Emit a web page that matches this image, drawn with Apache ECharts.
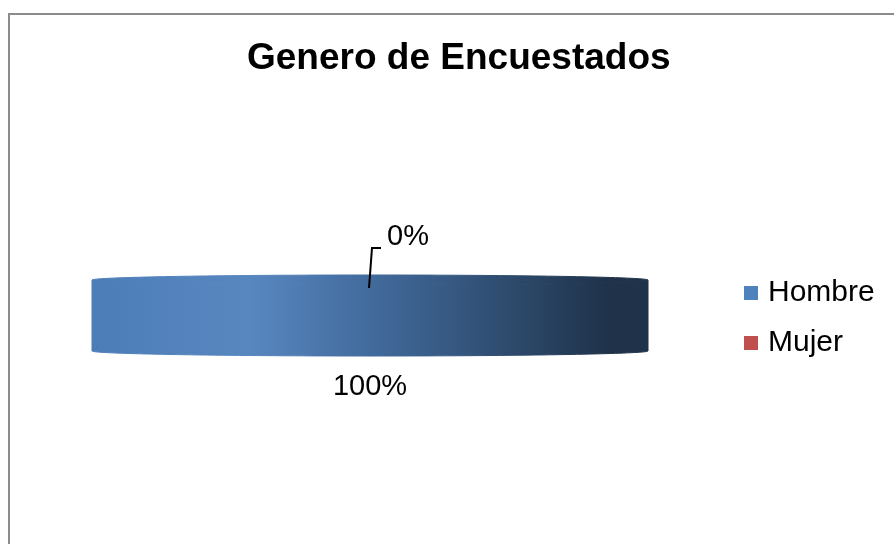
<!DOCTYPE html>
<html>
<head>
<meta charset="utf-8">
<script src="https://cdn.jsdelivr.net/npm/echarts@6/dist/echarts.min.js"></script>
<style>
  html, body { margin: 0; padding: 0; background: #fff; }
  #chart { width: 894px; height: 544px; }
</style>
</head>
<body>
<div id="chart"></div>
<script>
// datos
var categories = ['Hombre', 'Mujer'];
var values = [100, 0];
var colors = ['#4f81bd', '#c0504d'];

var total = values.reduce(function (a, b) { return a + b; }, 0);

// disco 3D visto casi de canto
var cx = 370, rx = 278, cyTop = 280, ry = 5, depth = 71;
var FONT = "'Liberation Sans', Arial, sans-serif";

function shade(hex, f) {
  var n = parseInt(hex.slice(1), 16);
  var r = (n >> 16) & 255, g = (n >> 8) & 255, b = n & 255;
  function c(v) {
    v = f > 1 ? v + (255 - v) * (f - 1) : v * f;
    return Math.round(Math.max(0, Math.min(255, v)));
  }
  return 'rgb(' + c(r) + ',' + c(g) + ',' + c(b) + ')';
}

function sideFill(color) {
  return new echarts.graphic.LinearGradient(cx - rx, 0, cx + rx, 0, [
    { offset: 0, color: shade(color, 0.97) },
    { offset: 0.28, color: shade(color, 1.05) },
    { offset: 0.5, color: shade(color, 0.83) },
    { offset: 0.65, color: shade(color, 0.68) },
    { offset: 0.82, color: shade(color, 0.5) },
    { offset: 0.93, color: shade(color, 0.39) },
    { offset: 1, color: shade(color, 0.39) }
  ], true);
}

function pt(a, dy) {
  var r = a * Math.PI / 180;
  return [cx + rx * Math.sin(r), cyTop - ry * Math.cos(r) + (dy || 0)];
}

function arc(a0, a1, dy) {
  var pts = [];
  var n = Math.max(2, Math.ceil((a1 - a0) / 2));
  for (var k = 0; k <= n; k++) pts.push(pt(a0 + (a1 - a0) * k / n, dy));
  return pts;
}

function makeRender(i) {
  return function (params, api) {
    var before = 0;
    for (var j = 0; j < i; j++) before += values[j];
    var v = api.value(0);
    var start = before / total * 360;
    var end = start + v / total * 360;
    var mid = (start + end) / 2;
    var fill = sideFill(colors[i]);
    var children = [];

    // cara lateral visible (frente: 90..270 grados)
    var lo = Math.max(start, 90), hi = Math.min(end, 270);
    if (hi > lo) {
      var side = arc(lo, hi, 0).concat(arc(lo, hi, depth).reverse());
      children.push({ type: 'polygon', shape: { points: side }, style: { fill: fill, stroke: fill, lineWidth: 1 } });
    }
    // cara superior
    if (end > start) {
      var top = end - start >= 360 ? arc(0, 360, 0) : [[cx, cyTop]].concat(arc(start, end, 0));
      children.push({ type: 'polygon', shape: { points: top }, style: { fill: fill, stroke: fill, lineWidth: 1 } });
    }

    // etiqueta de porcentaje
    var label = Math.round(v / total * 100) + '%';
    var p = pt(mid, 0);
    if (Math.cos(mid * Math.PI / 180) < 0) {
      children.push({
        type: 'text',
        style: { text: label, x: p[0], y: cyTop + ry + depth + 31, align: 'center', verticalAlign: 'middle',
                 font: '29px ' + FONT, fill: '#000' }
      });
    } else {
      var x0 = p[0] - 1;
      children.push({
        type: 'polyline',
        shape: { points: [[x0, cyTop + 8], [x0 + 3, cyTop - 32], [x0 + 12, cyTop - 32]] },
        style: { stroke: '#000', lineWidth: 2, fill: null }
      });
      children.push({
        type: 'text',
        style: { text: label, x: x0 + 18, y: cyTop - 43, align: 'left', verticalAlign: 'middle',
                 font: '29px ' + FONT, fill: '#000' }
      });
    }
    return { type: 'group', children: children };
  };
}

var series = categories.map(function (name, i) {
  return {
    type: 'custom',
    name: name,
    coordinateSystem: 'none',
    itemStyle: { color: colors[i] },
    data: [[values[i]]],
    renderItem: makeRender(i),
    silent: true
  };
});

var chart = echarts.init(document.getElementById('chart'));
chart.setOption({
  animation: false,
  backgroundColor: '#fff',
  graphic: [{
    type: 'rect',
    shape: { x: 9, y: 14, width: 1000, height: 1000 },
    style: { fill: null, stroke: '#8c8c8c', lineWidth: 2 },
    z: -10
  }],
  title: {
    text: 'Genero de Encuestados',
    left: 242,
    top: 35,
    textStyle: { fontFamily: FONT, fontSize: 37, fontWeight: 'bold', color: '#000' }
  },
  legend: {
    orient: 'vertical',
    left: 739,
    top: 273,
    itemWidth: 14,
    itemHeight: 14,
    itemGap: 20,
    icon: 'rect',
    data: categories,
    textStyle: { fontFamily: FONT, fontSize: 30, color: '#000', padding: [0, 0, 0, 5] }
  },
  series: series
});
</script>
</body>
</html>
